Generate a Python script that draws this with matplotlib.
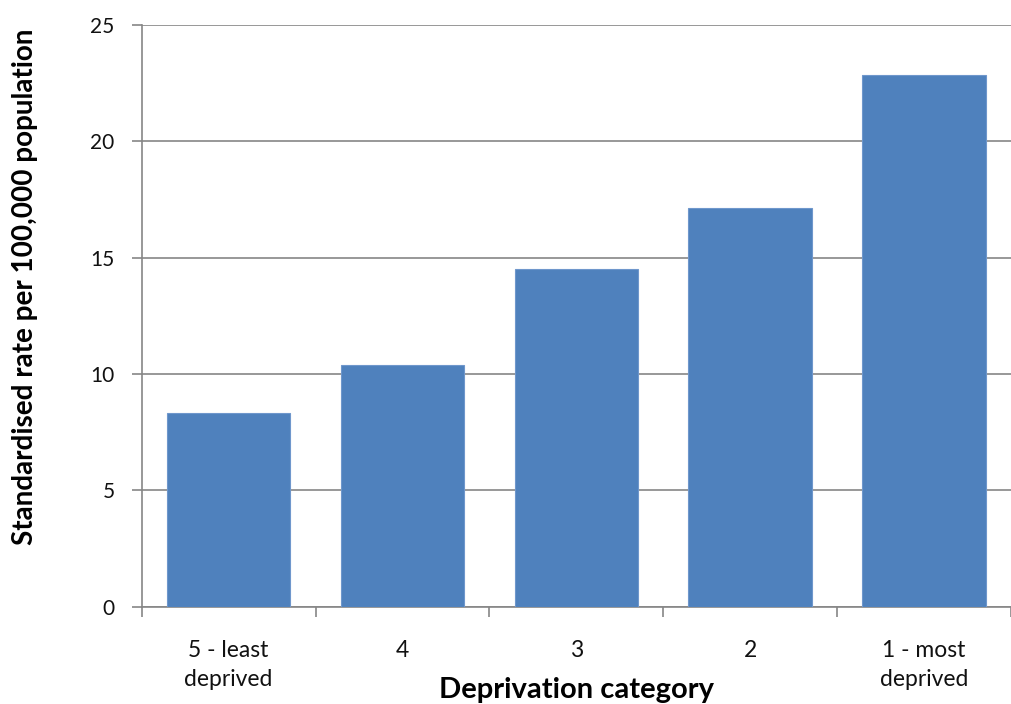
import numpy as np
import matplotlib
matplotlib.use("Agg")
import matplotlib.pyplot as plt

plt.rcParams['font.family'] = ['Lato', 'DejaVu Sans']

# Datos
categories = ["5 - least\ndeprived", "4", "3", "2", "1 - most\ndeprived"]
rates = [8.35, 10.4, 14.5, 17.15, 22.85]
y_ticks = [0, 5, 10, 15, 20, 25]

fig = plt.figure(figsize=(10.12, 7.04), dpi=100)
ax = fig.add_axes([0.140, 0.138, 0.859, 0.8265])

x = np.arange(len(categories))
ax.bar(x, rates, width=0.71, color="#4F81BD", edgecolor="#6F97CC", linewidth=0.8, zorder=3)

ax.set_xlim(-0.5, len(categories) - 0.5)
ax.set_ylim(0, 25)
ax.set_yticks(y_ticks)
ax.yaxis.grid(True, color="#868686", linewidth=1.2, zorder=0)

# ticks del eje x entre categorías
ax.set_xticks(np.arange(-0.5, len(categories) + 0.5, 1))
ax.set_xticklabels([])
ax.set_xticks(x, minor=True)
ax.set_xticklabels(categories, minor=True, fontsize=16.5, color="#111111",
                   linespacing=1.45)
ax.tick_params(axis="x", which="minor", length=0, pad=24)
ax.tick_params(axis="x", which="major", length=7.5, width=1.2, color="#868686")
ax.tick_params(axis="y", length=7.5, width=1.2, color="#868686", labelsize=15,
               labelcolor="#111111", pad=12)

for s in ["top", "right"]:
    ax.spines[s].set_visible(False)
for s in ["left", "bottom"]:
    ax.spines[s].set_color("#868686")
    ax.spines[s].set_linewidth(1.2)

ax.set_xlabel("Deprivation category", fontsize=21, fontweight="bold", va="center")
ax.xaxis.set_label_coords(0.5, -0.143)
ax.set_ylabel("Standardised rate per 100,000 population", fontsize=20,
              fontweight="bold", va="center")
ax.yaxis.set_label_coords(-0.134, 0.55)

fig.savefig("out.png", dpi=100)
